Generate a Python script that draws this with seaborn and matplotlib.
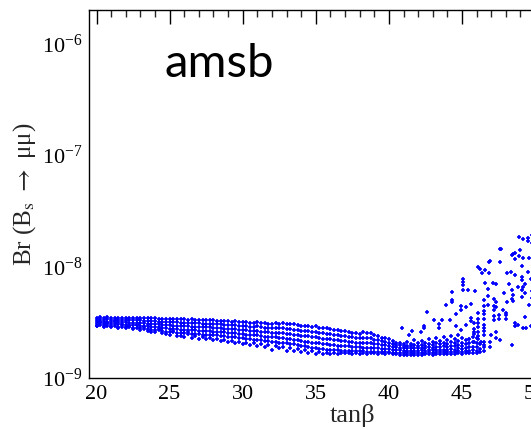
import numpy as np
import pandas as pd
import matplotlib
matplotlib.use("Agg")
import matplotlib.pyplot as plt
import matplotlib.ticker as mticker
import seaborn as sns

# ---- data (Br in units of 1e-9) ----
band_x = [20.00, 20.25, 20.50, 20.75, 21.00, 21.25, 21.50, 21.75, 22.00, 22.25,
          22.50, 22.75, 23.00, 23.25, 23.50, 23.75, 24.00, 24.25, 24.50, 24.75,
          25.00, 25.25, 25.50, 25.75, 26.00, 26.25, 26.50, 26.75, 27.00, 27.25,
          27.50, 27.75, 28.00, 28.25, 28.50, 28.75, 29.00, 29.25, 29.50, 29.75,
          30.00, 30.25, 30.50, 30.75, 31.00, 31.25, 31.50, 31.75, 32.00, 32.25,
          32.50, 32.75, 33.00, 33.25, 33.50, 33.75, 34.00, 34.25, 34.50, 34.75,
          35.00, 35.25, 35.50, 35.75, 36.00, 36.25, 36.50, 36.75, 37.00, 37.25,
          37.50, 37.75, 38.00, 38.25, 38.50, 38.75, 39.00, 39.25, 39.50, 39.75,
          40.00, 40.25, 40.50, 40.75, 41.00, 41.25, 41.50, 41.75, 42.00, 42.25,
          42.50, 42.75, 43.00, 43.25, 43.50, 43.75, 44.00, 44.25, 44.50, 44.75,
          45.00, 45.25, 45.50, 45.75, 46.00, 46.25, 46.50]
band_y = [
    [3.48, 3.34, 3.20, 3.07, 2.95, 2.92], [3.50, 3.36, 3.22, 3.09, 2.96, 3.15],
    [3.47, 3.33, 3.19, 3.06, 2.93, 2.88], [3.49, 3.35, 3.21, 3.07, 2.94, 3.10],
    [3.48, 3.33, 3.18, 3.04, 2.91, 2.85], [3.47, 3.32, 3.17, 3.03, 2.90, 3.25],
    [3.48, 3.33, 3.18, 3.03, 2.89, 2.82], [3.46, 3.31, 3.16, 3.01, 2.87, 3.05],
    [3.47, 3.32, 3.16, 3.01, 2.86, 2.78], [3.45, 3.30, 3.14, 2.99, 2.84, 2.95],
    [3.46, 3.30, 3.14, 2.98, 2.83, 2.74], [3.44, 3.28, 3.12, 2.96, 2.81, 3.00],
    [3.45, 3.28, 3.11, 2.95, 2.79, 2.70], [3.43, 3.26, 3.09, 2.92, 2.76, 2.88],
    [3.44, 3.26, 3.08, 2.91, 2.74, 2.65], [3.42, 3.24, 3.06, 2.89, 2.72, 2.60],
    [3.42, 3.23, 3.05, 2.87, 2.70, 2.58], [3.40, 3.21, 3.03, 2.85, 2.67, 2.75],
    [3.41, 3.21, 3.01, 2.82, 2.64, 2.52], [3.39, 3.19, 2.99, 2.80, 2.61, 2.48],
    [3.39, 3.18, 2.97, 2.77, 2.58, 2.44], [3.37, 3.16, 2.95, 2.75, 2.56, 2.62],
    [3.38, 3.16, 2.94, 2.73, 2.54, 2.40], [3.36, 3.14, 2.92, 2.71, 2.52, 2.38],
    [3.36, 3.14, 2.92, 2.71, 2.51, 2.34], [3.34, 3.12, 2.90, 2.69, 2.49, 2.58],
    [3.35, 3.12, 2.89, 2.68, 2.48, 2.30], [3.32, 3.10, 2.88, 2.67, 2.47, 2.36],
    [3.33, 3.10, 2.87, 2.66, 2.46, 2.26], [3.31, 3.08, 2.86, 2.65, 2.45, 2.32],
    [3.31, 3.08, 2.85, 2.64, 2.44, 2.22], [3.29, 3.06, 2.84, 2.63, 2.43, 2.28],
    [3.29, 3.05, 2.82, 2.61, 2.42, 2.18], [3.27, 3.04, 2.81, 2.60, 2.41, 2.25],
    [3.26, 3.02, 2.79, 2.58, 2.39, 2.14], [3.24, 3.00, 2.77, 2.56, 2.37, 2.20],
    [3.23, 2.99, 2.76, 2.54, 2.35, 2.10], [3.21, 2.97, 2.74, 2.52, 2.33, 2.16],
    [3.26, 3.00, 2.75, 2.52, 2.32, 2.06], [3.18, 2.94, 2.71, 2.49, 2.30, 2.12],
    [3.17, 2.93, 2.69, 2.47, 2.28, 2.02], [3.15, 2.91, 2.67, 2.45, 2.26, 2.08],
    [3.14, 2.89, 2.65, 2.43, 2.23, 1.98], [3.12, 2.87, 2.63, 2.41, 2.21, 2.04],
    [3.19, 2.92, 2.66, 2.42, 2.20, 1.94], [3.10, 2.84, 2.59, 2.37, 2.17, 2.00],
    [3.09, 2.83, 2.58, 2.35, 2.15, 1.88], [3.07, 2.81, 2.56, 2.33, 2.13, 1.96],
    [3.06, 2.80, 2.54, 2.31, 2.11, 1.78], [3.10, 2.82, 2.55, 2.31, 2.10, 1.92],
    [3.08, 2.80, 2.53, 2.29, 2.08, 1.84], [3.12, 2.83, 2.55, 2.30, 2.07, 1.88],
    [3.05, 2.76, 2.49, 2.25, 2.04, 1.76], [3.03, 2.74, 2.47, 2.23, 2.02, 1.86],
    [3.02, 2.72, 2.45, 2.21, 2.00, 1.74], [2.98, 2.69, 2.42, 2.18, 1.97, 1.82],
    [2.95, 2.66, 2.39, 2.15, 1.94, 1.70], [2.90, 2.62, 2.36, 2.12, 1.92, 1.78],
    [2.92, 2.63, 2.36, 2.11, 1.90, 1.68], [2.86, 2.58, 2.32, 2.08, 1.87, 1.74],
    [2.92, 2.61, 2.33, 2.08, 1.86, 1.64], [2.82, 2.54, 2.28, 2.04, 1.83, 1.70],
    [2.80, 2.52, 2.26, 2.02, 1.81, 1.63], [2.78, 2.50, 2.24, 2.00, 1.80, 1.68],
    [2.76, 2.48, 2.22, 1.99, 1.79, 1.64], [2.72, 2.45, 2.20, 1.97, 1.78, 1.66],
    [2.70, 2.43, 2.18, 1.95, 1.77, 1.65], [2.62, 2.38, 2.15, 1.94, 1.76, 1.67],
    [2.65, 2.39, 2.15, 1.93, 1.76, 1.66], [2.58, 2.34, 2.12, 1.92, 1.75, 1.68],
    [2.55, 2.32, 2.10, 1.90, 1.74, 1.65], [2.52, 2.29, 2.08, 1.89, 1.74, 1.67],
    [2.50, 2.28, 2.07, 1.88, 1.73, 1.65], [2.56, 2.30, 2.07, 1.87, 1.73, 1.66],
    [2.52, 2.27, 2.05, 1.86, 1.72, 1.64], [2.55, 2.28, 2.05, 1.86, 1.72, 1.66],
    [2.42, 2.21, 2.02, 1.85, 1.72, 1.67], [2.38, 2.18, 2.00, 1.84, 1.71, 1.65],
    [2.30, 2.13, 1.97, 1.83, 1.71, 1.66], [2.28, 2.11, 1.96, 1.82, 1.70, 1.64],
    [2.22, 2.07, 1.94, 1.81, 1.70, 1.66], [2.15, 2.03, 1.91, 1.80, 1.69, 1.63],
    [2.08, 1.98, 1.88, 1.78, 1.69, 1.64], [2.05, 1.96, 1.86, 1.77, 1.68, 1.62],
    [2.02, 1.93, 1.84, 1.76, 1.68, 1.61], [2.10, 1.95, 1.86, 1.76, 1.68, 1.61],
    [2.00, 1.92, 1.84, 1.75, 1.67, 1.61], [2.20, 1.98, 1.86, 1.76, 1.68, 1.62],
    [2.05, 1.94, 1.84, 1.75, 1.68, 1.62], [2.15, 1.98, 1.86, 1.77, 1.69, 1.62],
    [2.08, 1.95, 1.85, 1.76, 1.68, 1.63], [2.25, 2.02, 1.88, 1.78, 1.70, 1.63],
    [2.10, 1.96, 1.86, 1.77, 1.69, 1.62], [2.30, 2.05, 1.90, 1.80, 1.70, 1.63],
    [2.15, 2.00, 1.88, 1.78, 1.70, 1.64], [2.35, 2.08, 1.92, 1.80, 1.71, 1.64],
    [2.20, 2.02, 1.90, 1.79, 1.70, 1.63], [2.40, 2.10, 1.94, 1.82, 1.72, 1.65],
    [2.25, 2.05, 1.92, 1.80, 1.71, 1.64], [2.45, 2.15, 1.96, 1.84, 1.74, 1.66],
    [2.30, 2.08, 1.94, 1.82, 1.72, 1.65], [2.20, 2.00, 1.85, 1.74, 1.66],
    [2.25, 2.05, 1.88, 1.76, 1.67], [2.35, 2.10, 1.90, 1.78, 1.68],
    [2.30, 2.05, 1.88, 1.75, 1.68], [2.00, 1.82, 1.72],
    [2.10, 1.88, 1.76],
]

scatter_x = [40.9, 41.6, 41.4, 42.4, 42.4, 42.2, 42.6, 43.1, 43.4, 43.4,
             43.6, 43.9, 44.2, 44.35, 44.35, 44.35, 44.6, 44.9, 44.9, 44.6,
             44.9, 45.1, 45.1, 45.1, 45.1, 45.4, 45.3, 45.6, 45.9, 45.6,
             45.6, 45.3, 45.8, 46.1, 46.35, 46.6, 46.85, 46.8, 46.6, 47.1,
             47.3, 47.6, 47.6, 46.85, 48.05, 48.35, 48.6, 48.4, 48.6, 48.6,
             48.9, 49.2, 49.5, 49.5, 49.8, 49.8, 49.1, 49.1, 49.1, 49.3,
             49.1, 49.1, 48.4, 48.4, 48.5, 48.5, 48.1, 47.8, 48.0, 48.0,
             48.0, 47.5, 47.5, 47.2, 47.2, 47.2, 47.2, 47.2, 47.3, 47.3,
             46.5, 46.5, 46.5, 46.5, 46.5, 46.5, 46.5, 46.5, 46.5, 46.1,
             46.1, 46.1, 46.1, 46.1, 46.1, 46.1, 45.85, 45.85, 45.85, 45.85,
             46.3, 46.5, 46.9, 46.9, 48.4, 48.6, 48.6, 49.2, 49.4, 47.6,
             47.3, 47.3, 47.0, 46.8, 46.8, 47.9, 48.2, 48.8, 49.5, 49.6,
             49.7, 49.0, 48.8, 49.3, 49.6, 49.7, 49.8, 49.8, 49.9, 49.2,
             49.3, 48.5, 48.9, 49.2, 47.7, 46.9, 46.2]
scatter_y = [2.79, 2.64, 2.43, 2.93, 2.80, 2.60, 3.90, 3.30, 3.05, 2.80,
             3.30, 4.50, 3.30, 5.90, 5.00, 4.80, 3.75, 4.40, 4.07, 2.90,
             2.70, 7.70, 7.30, 6.80, 6.20, 6.20, 4.30, 4.60, 6.07, 3.45,
             3.27, 3.00, 2.60, 9.80, 8.80, 9.30, 8.70, 6.30, 7.06, 7.10,
             7.00, 11.0, 14.3, 11.0, 8.80, 9.00, 8.40, 12.8, 13.3, 11.6,
             18.3, 17.5, 18.0, 16.8, 19.0, 16.3, 10.0, 8.10, 7.60, 7.00,
             6.20, 5.35, 6.20, 5.10, 5.50, 4.90, 4.80, 4.07, 3.85, 3.65,
             3.35, 3.70, 3.40, 5.06, 4.40, 4.07, 3.60, 3.30, 4.80, 4.30,
             5.00, 4.40, 4.00, 3.75, 3.40, 3.00, 2.80, 2.65, 2.45, 3.80,
             3.40, 3.10, 2.85, 2.60, 2.40, 2.25, 3.10, 2.75, 2.50, 2.10,
             2.12, 1.98, 2.12, 1.90, 1.98, 3.10, 2.90, 2.79, 2.79, 2.19,
             2.60, 2.30, 2.45, 4.50, 5.40, 5.80, 6.90, 6.50, 9.00, 12.0,
             7.80, 14.0, 3.00, 3.50, 4.50, 2.90, 6.00, 5.20, 7.20, 6.60,
             5.80, 12.9, 12.4, 12.0, 14.4, 11.2, 9.50]

x_ticks = [20, 25, 30, 35, 40, 45, 50, 55]
y_ticks = [1e-9, 1e-8, 1e-7, 1e-6]

# ---- assemble table ----
xs, ys = [], []
for x, col in zip(band_x, band_y):
    for v in col:
        xs.append(x)
        ys.append(v * 1e-9)
for x, v in zip(scatter_x, scatter_y):
    xs.append(x)
    ys.append(v * 1e-9)
df = pd.DataFrame({"tanb": xs, "br": ys})

sns.set_theme(style="white")
plt.rcParams["font.family"] = ["Liberation Serif", "DejaVu Serif"]
plt.rcParams["mathtext.fontset"] = "stix"
plt.rcParams["axes.unicode_minus"] = False

fig = plt.figure(figsize=(5.31, 4.30), dpi=100)
ax = fig.add_axes([89.2 / 531, 52 / 430, (615.5 - 89.2) / 531, 368 / 430])

sns.scatterplot(data=df, x="tanb", y="br", ax=ax, marker="+", color="#0000ff",
                s=12, linewidth=1.2, legend=False)

ax.set_yscale("log")
ax.set_xlim(19.5, 55.5)
ax.set_ylim(1e-9, 10 ** (-5.7))
ax.set_xticks(x_ticks)
ax.xaxis.set_minor_locator(mticker.MultipleLocator(1))
ax.set_yticks(y_ticks)
ax.yaxis.set_minor_locator(mticker.LogLocator(base=10, subs=np.arange(2, 10)))
ax.yaxis.set_minor_formatter(mticker.NullFormatter())

for s in ax.spines.values():
    s.set_color("black")
    s.set_linewidth(1.0)

ax.tick_params(axis="both", which="major", direction="in", length=10, width=1.0,
               top=True, right=True, labelsize=16, colors="black", pad=5)
ax.tick_params(axis="both", which="minor", direction="in", length=5, width=1.0,
               top=True, right=True)

ax.set_xlabel("tanβ", fontsize=19, labelpad=0)
ax.set_ylabel("Br (B$_{\\rm s}$ ${\\rightarrow}$ μμ)", fontsize=18, labelpad=3)

ax.text(0.144, 0.819, "amsb", transform=ax.transAxes, fontsize=34,
        family=["Lato", "DejaVu Sans"], color="black", va="baseline")

fig.savefig("out.png", dpi=100)
